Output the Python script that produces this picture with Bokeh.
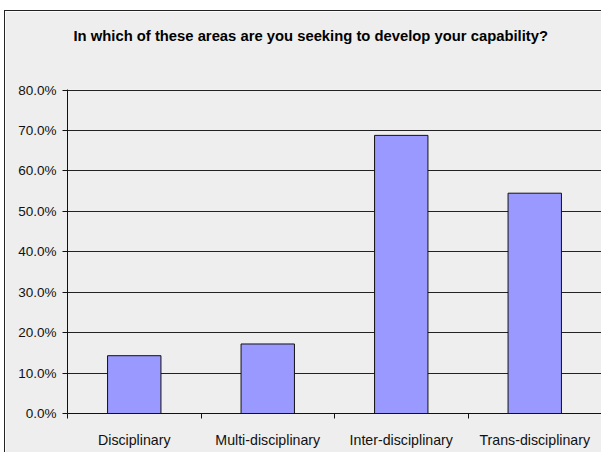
import numpy as np
from bokeh.plotting import figure
from bokeh.models import FixedTicker, PrintfTickFormatter, Range1d, ColumnDataSource, Title
from bokeh.embed import file_html
from bokeh.resources import INLINE

title_text = "In which of these areas are you seeking to develop your capability?"
categories = ["Disciplinary", "Multi-disciplinary", "Inter-disciplinary", "Trans-disciplinary"]
values = [14.3, 17.2, 68.8, 54.5]
y_ticks = [0, 10, 20, 30, 40, 50, 60, 70, 80]

n = len(categories)
centers = np.arange(n) + 0.5
src = ColumnDataSource(dict(x=centers, top=values, cat=categories))

p = figure(width=597, height=442, output_backend="svg", toolbar_location=None,
           x_range=Range1d(0, n), y_range=Range1d(0, 80.15),
           min_border_left=62, min_border_right=1, min_border_top=78, min_border_bottom=40)

p.background_fill_color = "#eeeeee"
p.border_fill_color = "#eeeeee"
p.outline_line_color = None
p.styles = {"margin-left": "4px", "margin-top": "10px",
            "border-left": "1px solid #222222", "border-top": "1px solid #222222"}

p.vbar(x="x", top="top", bottom=0, width=0.4, source=src,
       fill_color="#9999ff", line_color="#111111", line_width=1)

# spacer between the title and the plot area
p.add_layout(Title(text=" ", text_font_size="1px", standoff=43), "above")

p.title.text = title_text
p.title.text_font = "Liberation Sans"
p.title.text_font_size = "14.8px"
p.title.text_font_style = "bold"
p.title.text_color = "#000000"
p.title.align = "left"
p.title.offset = 6
p.title.standoff = 0

# y axis
p.yaxis.ticker = FixedTicker(ticks=y_ticks)
p.yaxis.formatter = PrintfTickFormatter(format="%.1f%%")
p.yaxis.major_tick_in = 0
p.yaxis.major_tick_out = 5
p.yaxis.minor_tick_line_color = None
p.yaxis.axis_line_color = "#111111"
p.yaxis.major_tick_line_color = "#111111"
p.yaxis.major_label_text_font = "Liberation Sans"
p.yaxis.major_label_text_font_size = "13.5px"
p.yaxis.major_label_text_color = "#111111"
p.yaxis.major_label_standoff = 6

# x axis: labels at centers, ticks at boundaries
p.xaxis.ticker = FixedTicker(ticks=list(centers), minor_ticks=list(range(n + 1)))
p.xaxis.major_label_overrides = {float(c): cat for c, cat in zip(centers, categories)}
p.xaxis.major_tick_in = 0
p.xaxis.major_tick_out = 0
p.xaxis.minor_tick_in = 0
p.xaxis.minor_tick_out = 5
p.xaxis.minor_tick_line_color = "#111111"
p.xaxis.axis_line_color = "#111111"
p.xaxis.major_label_text_font = "Liberation Sans"
p.xaxis.major_label_text_font_size = "14.2px"
p.xaxis.major_label_text_color = "#111111"
p.xaxis.major_label_standoff = 13

p.xgrid.grid_line_color = None
p.ygrid.ticker = FixedTicker(ticks=y_ticks)
p.ygrid.grid_line_color = "#222222"
p.ygrid.grid_line_width = 1

open("out.html", "w").write(file_html(p, INLINE))
